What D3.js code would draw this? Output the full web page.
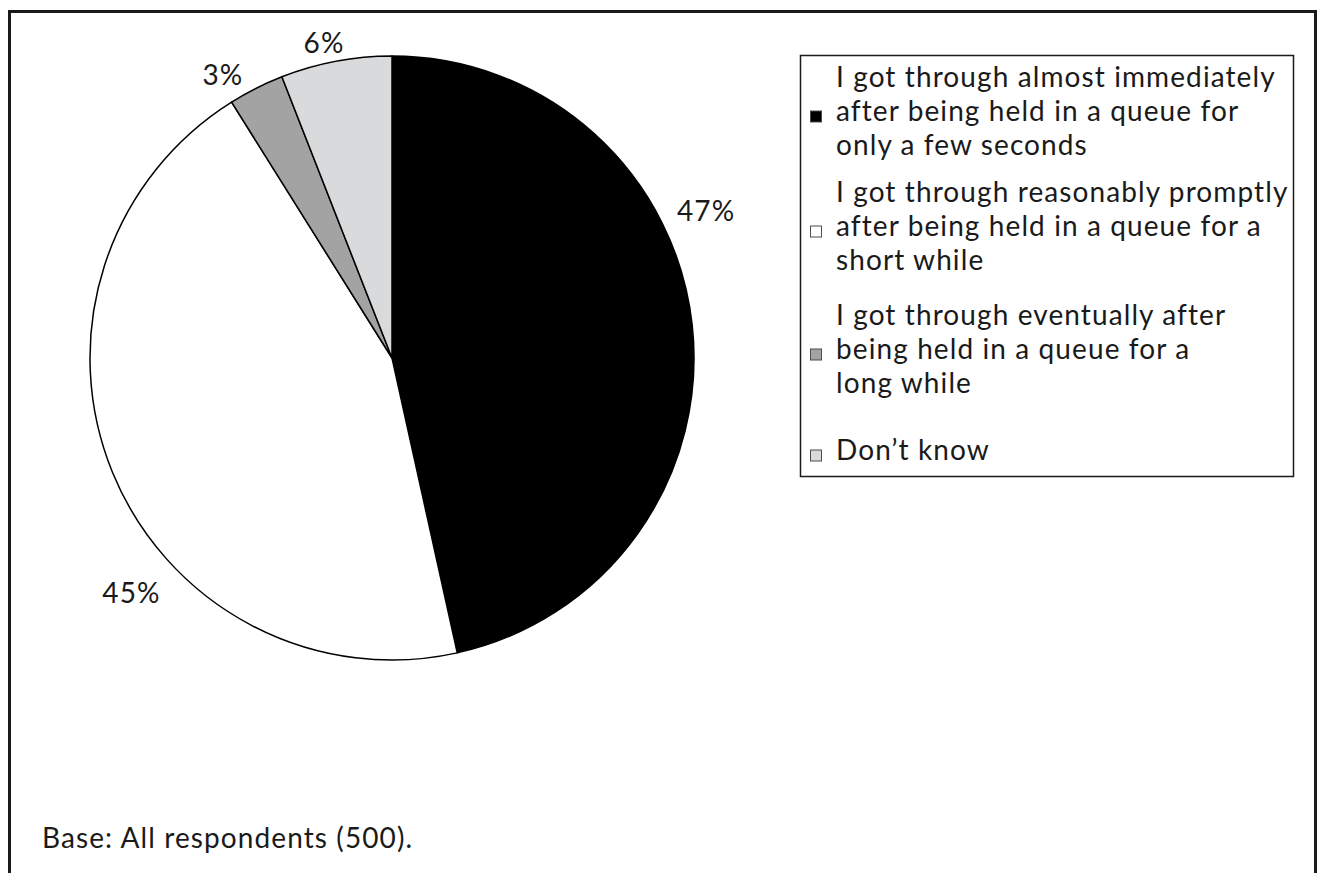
<!DOCTYPE html>
<html>
<head>
<meta charset="utf-8">
<script src="https://cdn.jsdelivr.net/npm/d3@7"></script>
<style>
  html, body { margin: 0; padding: 0; background: #fff; }
  svg { display: block; }
  text { font-family: Lato, "Noto Sans", sans-serif; fill: #1a1a1a; letter-spacing: 1.1px; }
</style>
</head>
<body>
<svg id="chart" width="1317" height="873"></svg>
<script>
// Survey responses: how quickly callers got through
const categories = [
  "I got through almost immediately after being held in a queue for only a few seconds",
  "I got through reasonably promptly after being held in a queue for a short while",
  "I got through eventually after being held in a queue for a long while",
  "Don\u2019t know"
];
const legendLines = [
  ["I got through almost immediately", "after being held in a queue for", "only a few seconds"],
  ["I got through reasonably promptly", "after being held in a queue for a", "short while"],
  ["I got through eventually after", "being held in a queue for a", "long while"],
  ["Don\u2019t know"]
];
const values = [47, 45, 3, 6];
const valueLabels = ["47%", "45%", "3%", "6%"];
const colors = ["#000000", "#ffffff", "#a3a3a3", "#d9dadb"];
const baseNote = "Base: All respondents (500).";

// Layout
const W = 1317, H = 873;
const cx = 392, cy = 358, radius = 302;
const fontSize = 28;
const lineH = 34;
// label placement: angle shift from slice middle (degrees) and distance from centre
const labelShift = [-18.9, -19.8, -4.1, -1.5];
const labelDist = [347, 351, 330, 322];

const svg = d3.select("#chart");

// outer frame (open at the bottom)
svg.append("path")
  .attr("d", `M9.5,${H} V11.5 H1315.5 V${H}`)
  .attr("fill", "none")
  .attr("stroke", "#1a1a1a")
  .attr("stroke-width", 3);

const pie = d3.pie().sort(null).value(d => d)(values);
const arc = d3.arc().innerRadius(0).outerRadius(radius);

const g = svg.append("g").attr("transform", `translate(${cx},${cy})`);

g.selectAll("path.slice")
  .data(pie)
  .join("path")
  .attr("class", "slice")
  .attr("d", arc)
  .attr("fill", (d, i) => colors[i])
  .attr("stroke", "#000")
  .attr("stroke-width", 1.5)
  .attr("stroke-linejoin", "round");

g.selectAll("text.pct")
  .data(pie)
  .join("text")
  .attr("class", "pct")
  .attr("x", (d, i) => {
    const a = (d.startAngle + d.endAngle) / 2 + labelShift[i] * Math.PI / 180;
    return Math.sin(a) * labelDist[i];
  })
  .attr("y", (d, i) => {
    const a = (d.startAngle + d.endAngle) / 2 + labelShift[i] * Math.PI / 180;
    return -Math.cos(a) * labelDist[i];
  })
  .attr("text-anchor", "middle")
  .attr("dy", "0.36em")
  .attr("font-size", fontSize)
  .text((d, i) => valueLabels[i]);

// legend
const legX = 800.5, legY = 55.5, legW = 493, legH = 421;
svg.append("rect")
  .attr("x", legX).attr("y", legY)
  .attr("width", legW).attr("height", legH)
  .attr("fill", "#fff")
  .attr("stroke", "#1a1a1a")
  .attr("stroke-width", 1.5);

// baseline of the first text line of each entry
const entryTop = [87, 202, 325, 460];

const entries = svg.append("g").selectAll("g.entry")
  .data(categories)
  .join("g")
  .attr("class", "entry");

entries.each(function (c, i) {
  const e = d3.select(this);
  const lines = legendLines[i];
  const mid = entryTop[i] + lineH * (lines.length - 1) / 2;
  e.append("rect")
    .attr("x", 810.5)
    .attr("y", mid - 10)
    .attr("width", 11).attr("height", 11)
    .attr("fill", colors[i])
    .attr("stroke", "#4d4d4d")
    .attr("stroke-width", 1);
  lines.forEach((l, j) => {
    e.append("text")
      .attr("x", 836)
      .attr("y", entryTop[i] + j * lineH)
      .attr("font-size", fontSize)
      .text(l);
  });
});

svg.append("text")
  .attr("x", 42)
  .attr("y", 848)
  .attr("font-size", fontSize)
  .text(baseNote);
</script>
</body>
</html>
